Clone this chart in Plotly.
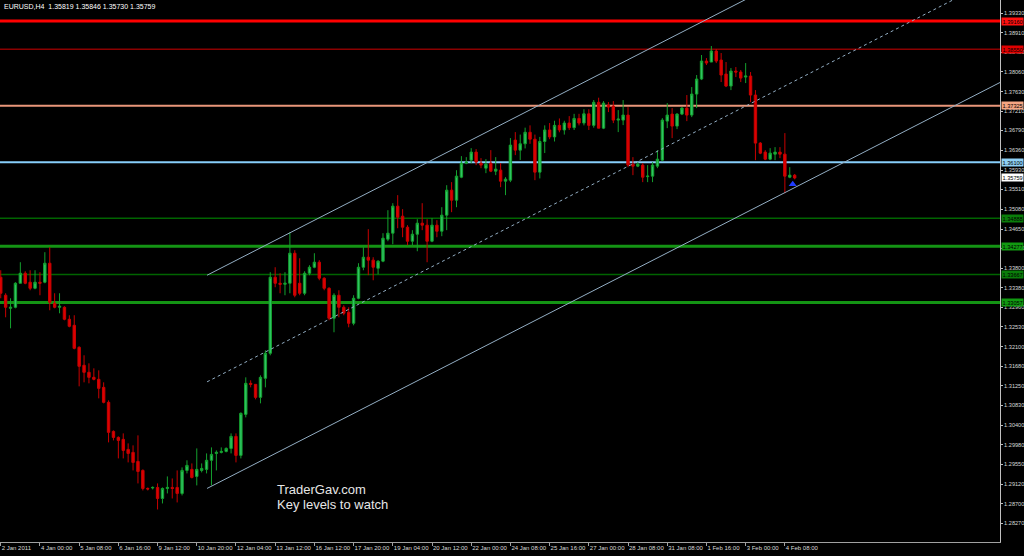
import plotly.graph_objects as go

# ---------------- data ----------------
opens = [1.33607,1.33217,1.32934,1.32956,1.33477,1.33694,1.33499,1.33368,1.33499,1.33499,
         1.33911,1.33043,1.32956,1.32956,1.32696,1.32565,1.32088,1.31698,1.31546,1.31437,
         1.31394,1.31220,1.30895,1.30265,1.30135,1.30092,1.29875,1.29810,1.29614,1.29419,
         1.29028,1.29039,1.29050,1.28811,1.29028,1.29050,1.29050,1.28920,1.29419,1.29441,
         1.29289,1.29419,1.29441,1.29638,1.29788,1.29810,1.29831,1.29896,1.30157,1.29745,
         1.30634,1.31307,1.31285,1.31003,1.31416,1.31958,1.33607,1.33477,1.33455,1.33477,
         1.34128,1.33477,1.33260,1.33694,1.33824,1.33933,1.33586,1.33368,1.32718,1.33217,
         1.32956,1.32848,1.32609,1.33151,1.33824,1.34041,1.33978,1.33802,1.33955,1.34432,
         1.34562,1.35148,1.34931,1.34692,1.34388,1.34540,1.34779,1.34736,1.34388,1.34736,
         1.34605,1.34953,1.35495,1.35278,1.35777,1.36081,1.36146,1.36320,1.36081,1.35972,
         1.36081,1.35907,1.35929,1.35690,1.35712,1.36580,1.36363,1.36500,1.36750,1.36600,
         1.35886,1.36550,1.36800,1.36650,1.36900,1.36800,1.36950,1.36850,1.37050,1.36950,
         1.37150,1.36900,1.37400,1.36840,1.37340,1.37318,1.37014,1.37014,1.37123,1.36059,
         1.36016,1.36038,1.35788,1.35799,1.36016,1.36146,1.36992,1.37144,1.36884,1.37144,
         1.37274,1.37123,1.37578,1.37904,1.38294,1.38273,1.38511,1.38316,1.38012,1.37752,
         1.38077,1.38056,1.37947,1.37969,1.37557,1.36515,1.36320,1.36168,1.36276,1.36320,
         1.36276,1.35777,1.35819]
highs = [1.33759,1.33260,1.33151,1.33499,1.33933,1.33737,1.33759,1.33759,1.33716,1.34150,
         1.34258,1.33260,1.33260,1.32978,1.32783,1.32783,1.32110,1.31915,1.31741,1.31632,
         1.31589,1.31329,1.30938,1.30287,1.30157,1.30222,1.30005,1.29962,1.30179,1.29441,
         1.29050,1.29072,1.29137,1.29050,1.29289,1.29245,1.29419,1.29484,1.29638,1.29571,
         1.29896,1.29571,1.29788,1.29918,1.29853,1.29918,1.29918,1.30222,1.30222,1.30678,
         1.31437,1.31372,1.31285,1.31480,1.32023,1.33716,1.33824,1.33694,1.33716,1.34584,
         1.34193,1.34019,1.33737,1.33868,1.34128,1.33978,1.33607,1.33390,1.33260,1.33325,
         1.32999,1.32956,1.33217,1.33911,1.34258,1.34649,1.34041,1.33978,1.34562,1.35061,
         1.35213,1.35387,1.35083,1.34736,1.34628,1.34866,1.35213,1.34866,1.34887,1.34844,
         1.35126,1.35603,1.35669,1.35928,1.36233,1.36211,1.36406,1.36385,1.36190,1.36168,
         1.36363,1.36211,1.36081,1.35777,1.36624,1.36754,1.36700,1.36850,1.36900,1.36700,
         1.36650,1.36900,1.36950,1.37000,1.37050,1.37000,1.37100,1.37150,1.37150,1.37250,
         1.37250,1.37450,1.37500,1.37426,1.37405,1.37426,1.37231,1.37448,1.37296,1.36211,
         1.36103,1.36081,1.36038,1.36103,1.36363,1.37057,1.37383,1.37274,1.37166,1.37296,
         1.37557,1.37730,1.37991,1.38425,1.38359,1.38620,1.38555,1.38468,1.38273,1.38142,
         1.38164,1.38099,1.38251,1.38056,1.37665,1.36537,1.36363,1.36406,1.36428,1.36428,
         1.36732,1.35994,1.35846]
lows = [1.33151,1.32739,1.32500,1.32934,1.33477,1.33455,1.33325,1.33347,1.33217,1.33477,
        1.32891,1.32934,1.32826,1.32674,1.32522,1.32045,1.31242,1.31329,1.31307,1.31372,
        1.30981,1.30873,1.30027,1.30070,1.29679,1.29679,1.29593,1.29419,1.29137,1.28985,
        1.28985,1.29007,1.28573,1.28703,1.28920,1.28811,1.28725,1.28877,1.29354,1.29245,
        1.29094,1.29376,1.29354,1.29094,1.29419,1.29788,1.29810,1.29788,1.29593,1.29679,
        1.30569,1.31220,1.30960,1.30873,1.31220,1.31915,1.33390,1.33260,1.33217,1.33260,
        1.33173,1.33217,1.33217,1.33651,1.33802,1.33542,1.33325,1.32674,1.32414,1.32739,
        1.32783,1.32522,1.32565,1.33130,1.33759,1.33651,1.33542,1.33672,1.33933,1.34388,
        1.34323,1.34670,1.34475,1.34302,1.34302,1.34171,1.34628,1.33933,1.34367,1.34475,
        1.34497,1.34628,1.35018,1.35126,1.35755,1.36059,1.36081,1.36038,1.35972,1.35864,
        1.35886,1.35821,1.35560,1.35387,1.35669,1.36255,1.36150,1.36400,1.36500,1.35712,
        1.35750,1.36300,1.36600,1.36550,1.36750,1.36700,1.36800,1.36800,1.36900,1.36900,
        1.36800,1.36850,1.36900,1.36819,1.37188,1.36949,1.36754,1.36906,1.35994,1.35821,
        1.35994,1.35669,1.35669,1.35669,1.35972,1.36124,1.36840,1.36624,1.36819,1.37123,
        1.36992,1.37079,1.37274,1.37882,1.38208,1.38273,1.38251,1.37839,1.37730,1.37665,
        1.37947,1.37839,1.37817,1.37405,1.36146,1.36276,1.36146,1.36146,1.36146,1.36190,
        1.35430,1.35755,1.35730]
closes = [1.33260,1.32956,1.32956,1.33477,1.33694,1.33477,1.33368,1.33499,1.33477,1.33911,
          1.33065,1.32956,1.32978,1.32696,1.32544,1.32066,1.31676,1.31546,1.31437,1.31394,
          1.31198,1.30895,1.30244,1.30135,1.30070,1.29853,1.29788,1.29593,1.29397,1.29028,
          1.29017,1.29050,1.28811,1.29028,1.29050,1.29028,1.28920,1.29419,1.29528,1.29267,
          1.29441,1.29462,1.29638,1.29766,1.29810,1.29831,1.29896,1.30157,1.29745,1.30656,
          1.31307,1.31285,1.31003,1.31437,1.31958,1.33607,1.33477,1.33455,1.33477,1.34128,
          1.33217,1.33260,1.33694,1.33824,1.33933,1.33586,1.33368,1.32718,1.33217,1.32956,
          1.32826,1.32609,1.33151,1.33824,1.34041,1.33978,1.33824,1.33955,1.34453,1.34562,
          1.35148,1.34909,1.34692,1.34388,1.34540,1.34779,1.34736,1.34388,1.34736,1.34605,
          1.34953,1.35495,1.35278,1.35799,1.36081,1.36103,1.36320,1.36103,1.36038,1.36059,
          1.35907,1.35951,1.35690,1.35734,1.36472,1.36363,1.36500,1.36750,1.36600,1.35886,
          1.36550,1.36800,1.36650,1.36900,1.36800,1.36950,1.36850,1.37050,1.36950,1.37150,
          1.36900,1.37400,1.36840,1.37383,1.37296,1.37014,1.37036,1.37123,1.36038,1.36016,
          1.36059,1.35777,1.35799,1.36038,1.36168,1.37014,1.37123,1.36884,1.37144,1.37274,
          1.37123,1.37578,1.37904,1.38294,1.38251,1.38511,1.38294,1.37991,1.37752,1.38077,
          1.38056,1.37925,1.37969,1.37557,1.36515,1.36298,1.36168,1.36298,1.36320,1.36276,
          1.35799,1.35821,1.35759]
bars = list(range(len(opens)))

tick_bars = [0, 8, 16, 24, 32, 40, 48, 56, 64, 72, 80, 88, 96, 104, 112, 120, 128, 136, 144, 152, 160]
tick_labels = ["2 Jan 2011", "4 Jan 00:00", "5 Jan 08:00", "6 Jan 16:00", "9 Jan 12:00",
               "10 Jan 20:00", "12 Jan 04:00", "13 Jan 12:00", "16 Jan 12:00", "17 Jan 20:00",
               "19 Jan 04:00", "20 Jan 12:00", "22 Jan 00:00", "24 Jan 08:00", "25 Jan 16:00",
               "27 Jan 00:00", "28 Jan 08:00", "31 Jan 08:00", "1 Feb 16:00", "3 Feb 00:00",
               "4 Feb 08:00"]
price_ticks = [1.39330, 1.38910, 1.38480, 1.38060, 1.37630, 1.37210, 1.36790, 1.36360, 1.35930,
               1.35510, 1.35080, 1.34650, 1.34230, 1.33800, 1.33380, 1.32960, 1.32530, 1.32100,
               1.31680, 1.31250, 1.30830, 1.30400, 1.29980, 1.29550, 1.29120, 1.28700, 1.28270,
               1.27850]

level_prices = [1.39160, 1.38550, 1.37325, 1.36100, 1.34888, 1.34277, 1.33667, 1.33057]
level_colors = ["#ff0000", "#8b0000", "#e9967a", "#87cefa", "#006400", "#149414", "#006400", "#149414"]
level_label_colors = ["#ff1010", "#e00000", "#f4a582", "#8fd0f5", "#0a7d0a", "#119911", "#0a7d0a", "#119911"]
level_widths = [3, 1.5, 2, 2, 1.5, 3, 1.5, 3]

bid_price = 1.35759
title_text = "EURUSD,H4  1.35819 1.35846 1.35730 1.35759"

channel_bars = [42.1, 204.0]
channel_upper = [1.33651, 1.42458]
channel_lower = [1.29028, 1.37835]
channel_mid = [(a + b) / 2 for a, b in zip(channel_upper, channel_lower)]

arrow_bar = [161.6]
arrow_price = [1.35625]

x_range = [-0.15, 203.9]
y_range = [1.27867, 1.39618]

# ---------------- figure ----------------
fig = go.Figure()

for p, c, w in zip(level_prices, level_colors, level_widths):
    fig.add_hline(y=p, line=dict(color=c, width=w), layer="below")

chan_color = "#93aec4"
fig.add_trace(go.Scatter(x=channel_bars, y=channel_upper, mode="lines",
                         line=dict(color=chan_color, width=1), hoverinfo="skip"))
fig.add_trace(go.Scatter(x=channel_bars, y=channel_mid, mode="lines",
                         line=dict(color=chan_color, width=1, dash="dot"), hoverinfo="skip"))
fig.add_trace(go.Scatter(x=channel_bars, y=channel_lower, mode="lines",
                         line=dict(color=chan_color, width=1), hoverinfo="skip"))

fig.add_trace(go.Candlestick(
    x=bars, open=opens, high=highs, low=lows, close=closes,
    increasing=dict(line=dict(color="#14a02e", width=1), fillcolor="#2fc463"),
    decreasing=dict(line=dict(color="#c80000", width=1), fillcolor="#dd0000"),
    whiskerwidth=0,
))

fig.add_trace(go.Scatter(x=arrow_bar, y=arrow_price, mode="markers",
                         marker=dict(symbol="triangle-up", size=7, color="#1f3cff"),
                         hoverinfo="skip"))

label_font = dict(family="Liberation Sans", size=5.6, color="#000000")
annotations = []
for p, c in zip(level_prices, level_label_colors):
    annotations.append(dict(x=1, xref="paper", y=p, yref="y", xanchor="left", yanchor="middle",
                            text=f"{p:.5f}", showarrow=False, bgcolor=c, borderpad=0.5,
                            xshift=1, font=label_font))
annotations.append(dict(x=1, xref="paper", y=bid_price, yref="y", xanchor="left", yanchor="middle",
                        text=f"{bid_price:.5f}", showarrow=False, bgcolor="#ffffff", borderpad=0.5,
                        xshift=1, font=label_font))
annotations.append(dict(x=0, xref="paper", y=1, yref="paper", xanchor="left", yanchor="top",
                        text=title_text, showarrow=False, xshift=2, yshift=-1,
                        font=dict(family="Liberation Sans", size=7, color="#ffffff")))
annotations.append(dict(x=0.275, xref="paper", y=1 - 489 / 542, yref="paper", xanchor="left",
                        yanchor="middle", text="TraderGav.com", showarrow=False,
                        font=dict(family="Liberation Sans", size=13, color="#e6e6e6")))
annotations.append(dict(x=0.275, xref="paper", y=1 - 504 / 542, yref="paper", xanchor="left",
                        yanchor="middle", text="Key levels to watch", showarrow=False,
                        font=dict(family="Liberation Sans", size=13, color="#e6e6e6")))

fig.update_layout(
    width=1024, height=556,
    paper_bgcolor="#000000", plot_bgcolor="#000000",
    margin=dict(l=0, r=24, t=0, b=14, autoexpand=False),
    showlegend=False,
    annotations=annotations,
    xaxis=dict(range=x_range, tickvals=tick_bars, ticktext=tick_labels, tickangle=0,
               ticks="outside", ticklen=3, tickcolor="#a0a0a0", tickwidth=1,
               showline=True, linecolor="#a0a0a0", linewidth=1,
               showgrid=False, zeroline=False, rangeslider=dict(visible=False),
               ticklabelposition="outside right", automargin=False,
               tickfont=dict(family="Liberation Sans", size=6, color="#d8d8d8")),
    yaxis=dict(range=y_range, side="right", tickvals=price_ticks,
               ticktext=[f"{v:.5f}" for v in price_ticks], automargin=False,
               ticks="outside", ticklen=2, tickcolor="#c0c0c0",
               showline=True, linecolor="#c0c0c0", linewidth=1,
               showgrid=False, zeroline=False,
               tickfont=dict(family="Liberation Sans", size=5.6, color="#d8d8d8")),
)

fig.write_html("out.html", config={"displayModeBar": False},
               post_script="document.body.style.margin='0';document.body.style.padding='0';"
                           "document.body.style.overflow='hidden';")
